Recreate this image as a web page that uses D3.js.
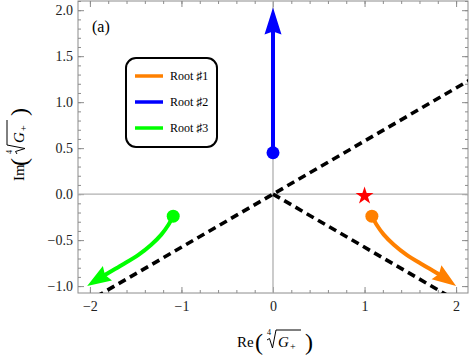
<!DOCTYPE html>
<html>
<head>
<meta charset="utf-8">
<script src="https://cdn.jsdelivr.net/npm/d3@7"></script>
<style>
  body { margin: 0; background: #fff; }
  text { font-family: "Liberation Serif", "DejaVu Serif", serif; }
</style>
</head>
<body>
<div id="container"></div>
<script>
const width = 469
const height = 359

// roots of G+^(1/4): paths in the complex plane
const root1Re = [1.08, 1.13, 1.21, 1.32, 1.46, 1.64, 1.83, 2.0]
const root1Im = [-0.24, -0.33, -0.44, -0.55, -0.66, -0.77, -0.88, -1.0]
const root2Re = [0, 0]
const root2Im = [0.45, 2.03]
const root3Re = [-1.09, -1.14, -1.22, -1.33, -1.47, -1.65, -1.84, -2.03]
const root3Im = [-0.24, -0.33, -0.44, -0.55, -0.66, -0.77, -0.88, -1.0]

// dashed guide lines through the origin
const guide1Re = [-2.3, 2.3]
const guide1Im = [-1.328, 1.328]
const guide2Re = [0, 2.3]
const guide2Im = [0, -1.328]

const starRe = [1.0]
const starIm = [-0.02]

const legendLabels = ['Root \u266F1', 'Root \u266F2', 'Root \u266F3']
const colors = ['#ff8000', '#0000ff', '#00ff00']

const xTicks = [-2, -1, 0, 1, 2]
const yTicks = [-1, -0.5, 0, 0.5, 1, 1.5, 2]

const pL = 78, pR = 468, pT = 1, pB = 293

const x = d3.scaleLinear().domain([-2.13, 2.13]).range([pL, pR])
const y = d3.scaleLinear().domain([-1.075, 2.1]).range([pB, pT])

const svg = d3.select('#container')
  .append('svg')
  .attr('width', width)
  .attr('height', height)

svg.append('defs').append('clipPath').attr('id', 'plotclip')
  .append('rect')
  .attr('x', pL).attr('y', pT)
  .attr('width', pR - pL).attr('height', pB - pT)

const frameColor = '#8c8c8c'
const fmtX = d => d3.format('d')(d).replace('-', '\u2212')
const fmtY = d => d3.format('.1f')(d).replace('-', '\u2212')

// minor ticks
const xMinor = d3.range(-2.2, 2.21, 0.2).map(v => +v.toFixed(1)).filter(v => v > -2.13 && v < 2.13)
const yMinor = d3.range(-1.0, 2.11, 0.1).map(v => +v.toFixed(1))

function styleAxis(g) {
  g.select('.domain').remove()
  g.selectAll('.tick line').attr('stroke', frameColor)
  g.selectAll('.tick text').attr('fill', '#222').style('font-size', '14px')
    .style('font-family', '"Liberation Serif", "DejaVu Serif", serif')
}

svg.append('g').attr('transform', `translate(0,${pB})`)
  .call(d3.axisBottom(x).tickValues(xTicks).tickFormat(fmtX).tickSize(-6).tickPadding(8))
  .call(styleAxis)
svg.append('g').attr('transform', `translate(0,${pB})`)
  .call(d3.axisBottom(x).tickValues(xMinor).tickFormat('').tickSize(-3))
  .call(styleAxis)
svg.append('g').attr('transform', `translate(0,${pT})`)
  .call(d3.axisTop(x).tickValues(xTicks).tickFormat('').tickSize(-6))
  .call(styleAxis)
svg.append('g').attr('transform', `translate(0,${pT})`)
  .call(d3.axisTop(x).tickValues(xMinor).tickFormat('').tickSize(-3))
  .call(styleAxis)

svg.append('g').attr('transform', `translate(${pL},0)`)
  .call(d3.axisLeft(y).tickValues(yTicks).tickFormat(fmtY).tickSize(-6).tickPadding(5))
  .call(styleAxis)
svg.append('g').attr('transform', `translate(${pL},0)`)
  .call(d3.axisLeft(y).tickValues(yMinor).tickFormat('').tickSize(-3))
  .call(styleAxis)
svg.append('g').attr('transform', `translate(${pR},0)`)
  .call(d3.axisRight(y).tickValues(yTicks).tickFormat('').tickSize(-6))
  .call(styleAxis)
svg.append('g').attr('transform', `translate(${pR},0)`)
  .call(d3.axisRight(y).tickValues(yMinor).tickFormat('').tickSize(-3))
  .call(styleAxis)

// frame
svg.append('rect')
  .attr('x', pL).attr('y', pT)
  .attr('width', pR - pL).attr('height', pB - pT)
  .attr('fill', 'none').attr('stroke', frameColor).attr('stroke-width', 1)

const plot = svg.append('g').attr('clip-path', 'url(#plotclip)')

// zero axes
plot.append('line')
  .attr('x1', x(0)).attr('x2', x(0)).attr('y1', pT).attr('y2', pB)
  .attr('stroke', '#b0b0b0').attr('stroke-width', 1.3)
plot.append('line')
  .attr('x1', pL).attr('x2', pR).attr('y1', y(0)).attr('y2', y(0))
  .attr('stroke', '#b0b0b0').attr('stroke-width', 1.3)

// dashed guides
const guideLine = d3.line().x(d => x(d[0])).y(d => y(d[1]))
;[[guide1Re, guide1Im], [guide2Re, guide2Im]].forEach(([re, im]) => {
  plot.append('path')
    .attr('d', guideLine(d3.zip(re, im)))
    .attr('fill', 'none').attr('stroke', '#000')
    .attr('stroke-width', 3.6).attr('stroke-dasharray', '8,5')
})

// root paths with arrows
const rootLine = d3.line().x(d => x(d[0])).y(d => y(d[1])).curve(d3.curveCatmullRom)
const roots = [[root1Re, root1Im], [root2Re, root2Im], [root3Re, root3Im]]

roots.forEach(([re, im], i) => {
  const pts = d3.zip(re, im)
  const n = pts.length
  const tip = [x(pts[n - 1][0]), y(pts[n - 1][1])]
  const prev = [x(pts[n - 2][0]), y(pts[n - 2][1])]
  let dx = tip[0] - prev[0], dy = tip[1] - prev[1]
  const len = Math.hypot(dx, dy)
  dx /= len; dy /= len
  const L = i === 1 ? 27 : 24, W = 8.5, notch = 3
  const bx = tip[0] - dx * L, by = tip[1] - dy * L
  const nx = -dy, ny = dx
  const head = [
    tip,
    [bx + nx * W, by + ny * W],
    [tip[0] - dx * (L - notch), tip[1] - dy * (L - notch)],
    [bx - nx * W, by - ny * W]
  ]
  plot.append('path')
    .attr('d', rootLine(pts.slice(0, n - 1).concat([[x.invert(bx + dx * 6), y.invert(by + dy * 6)]])))
    .attr('fill', 'none').attr('stroke', colors[i]).attr('stroke-width', 4)
  plot.append('path')
    .attr('d', 'M' + head.map(p => p.join(',')).join('L') + 'Z')
    .attr('fill', colors[i])
  plot.append('circle')
    .attr('cx', x(pts[0][0])).attr('cy', y(pts[0][1])).attr('r', 6.5)
    .attr('fill', colors[i])
})

// star
plot.selectAll('.star').data(d3.zip(starRe, starIm)).enter()
  .append('path')
  .attr('class', 'star')
  .attr('transform', d => `translate(${x(d[0])},${y(d[1])})`)
  .attr('d', d3.symbol().type(d3.symbolStar).size(100))
  .attr('fill', '#ff0000')

// panel label
svg.append('text').attr('x', 92).attr('y', 32).style('font-size', '16px').text('(a)')

// legend
const legend = svg.append('g')
legend.append('rect')
  .attr('x', 126).attr('y', 58).attr('width', 91).attr('height', 89)
  .attr('rx', 10).attr('ry', 10)
  .attr('fill', '#fff').attr('stroke', '#000').attr('stroke-width', 2)
legendLabels.forEach((lab, i) => {
  const cy = 76 + i * 26
  legend.append('line')
    .attr('x1', 135).attr('x2', 163).attr('y1', cy).attr('y2', cy)
    .attr('stroke', colors[i]).attr('stroke-width', 3.5)
  legend.append('text')
    .attr('x', 170).attr('y', cy + 4)
    .style('font-size', '12px').text(lab)
})

// axis labels with fourth-root
function rootLabel(g, name, nameW) {
  g.append('text').attr('x', -20 - nameW).attr('y', 0).style('font-size', '15px').text(name)
  g.append('text').attr('x', -19).attr('y', 3).style('font-size', '24px').text('(')
  g.append('text').attr('x', -7).attr('y', -12).style('font-size', '8px').text('4')
  g.append('path')
    .attr('d', 'M-7,-7 L-4.5,-8.5 L-1.5,1 L2,-17 L27,-17')
    .attr('fill', 'none').attr('stroke', '#000').attr('stroke-width', 1)
  g.append('text').attr('x', 4).attr('y', 0)
    .style('font-size', '15px').style('font-style', 'italic').text('G')
  g.append('text').attr('x', 16).attr('y', 3).style('font-size', '10px').text('+')
  g.append('text').attr('x', 31).attr('y', 3).style('font-size', '24px').text(')')
}

const xLab = svg.append('g').attr('transform', `translate(${(pL + pR) / 2 + 1},347)`)
rootLabel(xLab, 'Re', 17)
const yLab = svg.append('g').attr('transform', `translate(24,${(pT + pB) / 2}) rotate(-90)`)
rootLabel(yLab, 'Im', 14)
</script>
</body>
</html>
